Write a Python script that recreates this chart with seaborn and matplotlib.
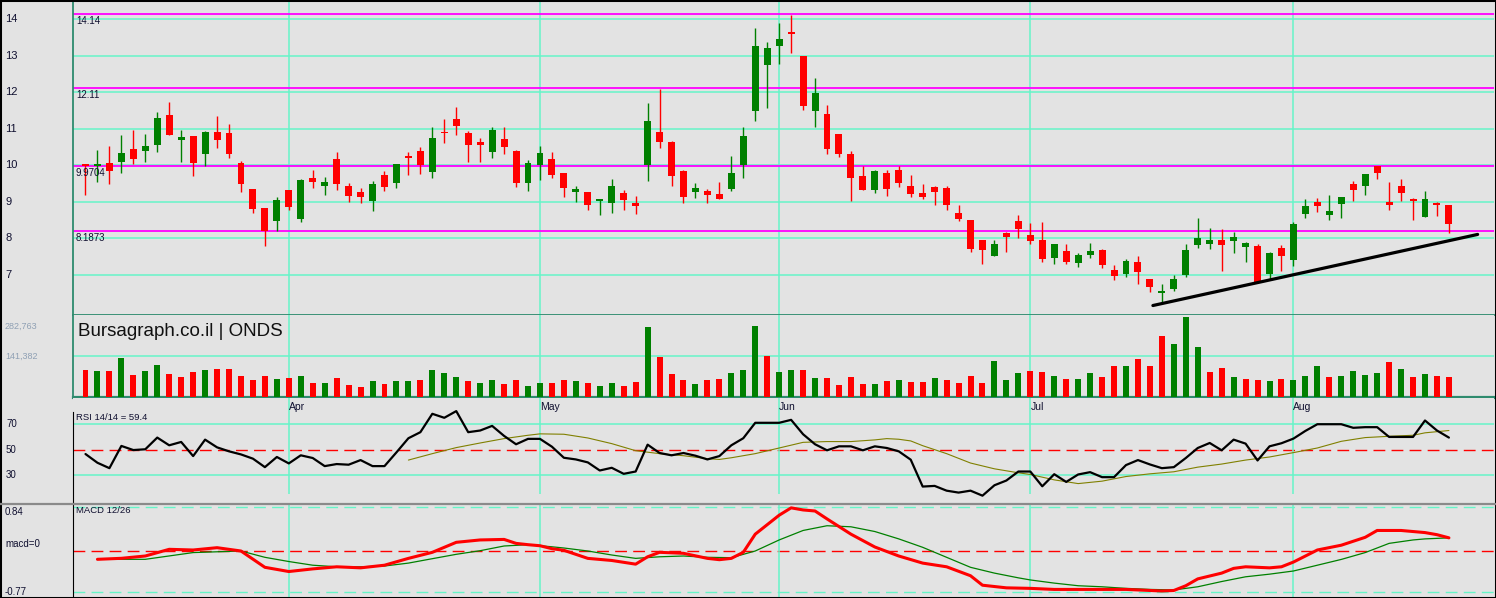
#
## ONDS daily chart: candles, volume, RSI and MACD panels in the Bursagraph style
#

import numpy as np
import matplotlib
matplotlib.use("Agg")
import matplotlib.pyplot as plt
from matplotlib.lines import Line2D
from matplotlib.patches import Rectangle
import seaborn as sns

# ---- data (one entry per trading day) ----
opens = [10.03, 9.99, 10.06, 10.09, 10.44, 10.39, 10.55, 11.38, 10.70, 10.80,
         10.31, 10.91, 10.88, 10.06, 9.35, 8.83, 8.48, 9.32, 8.53, 9.65,
         9.44, 10.17, 9.43, 9.25, 9.03, 9.73, 9.52, 10.25, 10.39, 9.81,
         10.91, 11.27, 10.88, 10.64, 10.36, 10.72, 10.39, 9.51, 10.01, 10.17,
         9.79, 9.27, 9.27, 9.03, 8.95, 9.24, 8.95, 10.01, 10.91, 10.64,
         9.84, 9.27, 9.29, 9.21, 9.35, 10.01, 11.49, 12.75, 13.27, 13.63,
         12.99, 11.49, 11.40, 10.86, 10.31, 9.70, 9.32, 9.79, 9.87, 9.43,
         9.24, 9.40, 9.37, 8.69, 8.50, 7.95, 7.51, 8.14, 8.47, 8.09,
         7.95, 7.46, 7.65, 7.32, 7.54, 7.67, 7.13, 7.02, 7.35, 6.88,
         6.50, 6.61, 6.99, 7.81, 7.84, 7.95, 7.92, 7.76, 7.78, 7.02,
         7.73, 7.40, 8.66, 8.99, 8.63, 8.94, 9.48, 9.43, 9.98, 8.99,
         9.43, 9.07, 8.58, 8.94, 8.91]
highs = [10.03, 10.42, 10.53, 10.83, 10.97, 10.86, 11.46, 11.73, 10.97, 10.80,
         10.94, 11.35, 11.13, 10.12, 9.35, 8.83, 9.13, 9.32, 9.62, 9.87,
         9.68, 10.36, 9.51, 9.36, 9.57, 9.84, 10.03, 10.36, 10.50, 11.05,
         11.27, 11.60, 10.94, 10.75, 11.05, 11.05, 10.42, 10.14, 10.53, 10.36,
         9.79, 9.43, 9.27, 9.07, 9.62, 9.32, 9.16, 11.71, 12.09, 10.66,
         9.87, 9.51, 9.35, 9.54, 10.25, 11.05, 13.76, 13.38, 13.90, 14.12,
         12.99, 12.39, 11.65, 10.86, 10.39, 9.98, 9.87, 9.87, 9.98, 9.73,
         9.48, 9.43, 9.43, 8.91, 8.50, 7.95, 7.95, 8.17, 8.63, 8.41,
         8.44, 7.84, 7.84, 7.59, 7.87, 7.70, 7.26, 7.43, 7.51, 6.88,
         6.74, 6.99, 7.84, 8.55, 8.28, 8.25, 8.17, 7.89, 7.84, 7.62,
         7.81, 8.44, 9.07, 9.10, 9.18, 9.13, 9.57, 9.76, 9.98, 9.54,
         9.62, 9.10, 9.29, 8.99, 8.91]
lows = [9.18, 9.55, 9.48, 9.79, 10.03, 10.09, 10.36, 10.83, 10.09, 9.71,
        9.98, 10.47, 10.20, 9.25, 8.70, 7.77, 8.20, 8.78, 8.45, 9.36,
        9.19, 9.33, 9.00, 8.97, 8.73, 9.30, 9.36, 9.74, 9.77, 9.66,
        10.61, 10.83, 10.09, 10.09, 10.20, 10.31, 9.40, 9.29, 9.59, 9.66,
        9.13, 9.00, 8.78, 8.64, 8.70, 8.78, 8.67, 9.57, 10.47, 9.43,
        8.97, 9.11, 8.97, 9.08, 9.29, 9.66, 11.21, 11.57, 12.78, 13.08,
        11.51, 11.05, 10.31, 10.22, 9.02, 9.32, 9.24, 9.16, 9.40, 9.13,
        9.07, 8.91, 8.77, 8.47, 7.62, 7.29, 7.51, 7.62, 8.00, 7.84,
        7.35, 7.29, 7.29, 7.21, 7.46, 7.18, 6.86, 6.93, 6.74, 6.52,
        6.19, 6.55, 6.93, 7.73, 7.70, 7.10, 7.59, 7.35, 6.80, 6.88,
        7.10, 7.24, 8.55, 8.72, 8.50, 8.55, 9.02, 9.18, 9.62, 8.77,
        9.02, 8.50, 8.58, 8.61, 8.14]
closes = [9.98, 10.01, 9.85, 10.33, 10.17, 10.53, 11.29, 10.83, 10.76, 10.06,
          10.91, 10.70, 10.31, 9.47, 8.81, 8.20, 9.05, 8.84, 9.59, 9.55,
          9.54, 9.47, 9.16, 9.14, 9.49, 9.41, 10.03, 10.21, 10.01, 10.75,
          10.88, 11.07, 10.55, 10.55, 10.97, 10.50, 9.51, 10.06, 10.33, 9.74,
          9.36, 9.35, 8.92, 9.07, 9.43, 9.05, 8.89, 11.21, 10.64, 9.70,
          9.13, 9.37, 9.19, 9.08, 9.79, 10.80, 13.27, 13.21, 13.46, 13.60,
          11.62, 11.98, 10.44, 10.31, 9.65, 9.32, 9.84, 9.35, 9.51, 9.21,
          9.13, 9.27, 8.91, 8.52, 7.70, 7.67, 7.84, 8.03, 8.25, 7.92,
          7.43, 7.84, 7.35, 7.54, 7.65, 7.26, 6.96, 7.37, 7.07, 6.66,
          6.52, 6.88, 7.67, 8.00, 7.95, 7.81, 8.03, 7.87, 6.80, 7.59,
          7.51, 8.39, 8.88, 8.88, 8.74, 9.13, 9.32, 9.76, 9.79, 8.91,
          9.24, 9.02, 9.07, 8.92, 8.39]

# volume in thousands of shares, and the colour the chart gives each bar
volumes = [92, 88.5, 88.5, 133, 75, 88.5, 109, 78, 68, 85,
           92, 95, 95, 71, 57, 71, 61, 64, 71, 47,
           47, 64, 40, 33, 54, 44, 54, 54, 57, 92,
           82, 68, 54, 47, 57, 44, 57, 37, 47, 47,
           57, 54, 47, 37, 47, 37, 51, 240, 137, 78,
           57, 44, 57, 61, 82, 92, 244, 140, 85, 92,
           92, 64, 64, 40, 68, 44, 44, 54, 57, 51,
           51, 64, 57, 47, 71, 47, 123, 57, 82, 88.5,
           85, 71, 61, 61, 82, 68, 106, 106, 130, 106,
           209, 182, 276, 171, 85, 99, 68, 61, 57, 54,
           61, 57, 71, 106, 68, 71, 88.5, 75, 82, 120,
           95, 68, 78, 71, 68]
volume_dir = list("rgrgrggrrr" "grrrrrgrgr" "grrrgrggrg" "ggrggrrggr"
                  "rgrggrrgrr" "rgrrgggrgg" "rgrrrrgrgr" "rgrrrrgggr"
                  "rgrggrrgrr" "rggg" "rrgrrg" "rgggrggggr" "grgrr")

rsi = [46.6, 39.8, 35.6, 52.9, 49.7, 50.3, 59.4, 53.4, 56.0, 45.0,
       57.8, 51.8, 48.7, 46.3, 43.0, 36.4, 44.3, 39.3, 45.6, 43.5,
       37.2, 38.8, 38.3, 41.9, 37.2, 37.2, 47.9, 58.9, 63.6, 77.9,
       74.8, 80.0, 63.6, 64.9, 68.5, 60.7, 54.2, 58.4, 58.4, 52.3,
       43.7, 42.4, 40.1, 33.8, 35.9, 31.2, 33.0, 53.9, 47.4, 45.6,
       47.4, 45.3, 42.4, 45.0, 53.4, 58.9, 70.9, 70.9, 70.9, 73.2,
       62.0, 54.2, 49.5, 52.6, 52.6, 49.5, 52.6, 51.3, 48.7, 42.2,
       21.3, 21.8, 18.1, 16.6, 18.1, 14.2, 22.3, 26.0, 33.0, 33.0,
       21.5, 30.9, 24.9, 30.7, 32.5, 28.6, 28.6, 38.0, 41.9, 38.5,
       35.6, 36.4, 43.5, 51.3, 55.2, 49.5, 57.8, 54.7, 41.6, 52.6,
       55.0, 58.6, 64.6, 69.8, 69.8, 69.8, 67.0, 67.5, 67.5, 59.9,
       59.9, 59.9, 72.7, 64.9, 59.4]
rsi_ma_day = [28, 30, 32, 34, 36, 38, 39, 41, 43, 45, 47, 49, 51, 53, 54, 55,
              57, 59, 61, 63, 65, 67, 68, 69, 70, 71, 73, 75, 77, 79, 80, 82,
              84, 86, 88, 90, 92, 94, 96, 98, 100, 102, 104, 106, 108, 110,
              112, 113, 115]
rsi_ma = [41.9, 46.9, 51.6, 55.2, 58.6, 61.2, 62.3, 62.0, 59.1, 54.7, 49.2,
          46.9, 45.3, 43.0, 42.4, 43.7, 46.9, 51.3, 55.7, 56.3, 56.3, 57.6,
          58.6, 58.1, 56.8, 53.1, 46.9, 39.6, 35.1, 32.0, 30.7, 26.5, 23.6,
          25.5, 29.1, 31.2, 32.8, 36.4, 38.8, 41.9, 44.3, 47.7, 51.3, 56.5,
          59.4, 60.4, 61.2, 63.1, 64.9]

macd_day = [2, 4, 6, 8, 10, 12, 14, 16, 18, 20, 22, 24, 26, 28, 30, 32, 34,
            36, 37, 38, 39, 40, 41, 43, 45, 47, 48, 49, 51, 53, 54, 55, 56,
            57, 59, 60, 61, 62, 63, 65, 67, 69, 71, 73, 75, 76, 78, 80, 82,
            84, 86, 88, 90, 91, 92, 93, 94, 96, 97, 98, 100, 101, 102, 104,
            106, 108, 109, 111, 113, 114, 115]
macd = [-0.158, -0.139, -0.095, 0.032, 0.019, 0.063, 0.0, -0.31, -0.39,
        -0.34, -0.30, -0.32, -0.27, -0.14, -0.025, 0.165, 0.21, 0.22, 0.145,
        0.12, 0.10, 0.044, 0.013, -0.14, -0.18, -0.25, -0.11, -0.025, -0.044,
        -0.14, -0.165, -0.14, -0.025, 0.32, 0.68, 0.82, 0.78, 0.76, 0.61,
        0.32, 0.076, -0.095, -0.23, -0.30, -0.47, -0.65, -0.70, -0.71, -0.73,
        -0.73, -0.73, -0.73, -0.75, -0.76, -0.75, -0.66, -0.53, -0.42, -0.33,
        -0.30, -0.32, -0.30, -0.21, 0.019, 0.11, 0.26, 0.39, 0.39, 0.35,
        0.31, 0.25]
signal_day = [2, 6, 10, 14, 16, 18, 20, 22, 24, 26, 28, 30, 32, 34, 36, 38,
              40, 41, 43, 45, 47, 49, 51, 53, 55, 57, 59, 61, 63, 65, 67, 69,
              71, 73, 75, 77, 79, 80, 82, 84, 86, 88, 90, 92, 94, 96, 98, 100,
              102, 104, 106, 108, 110, 112, 113, 115]
macd_signal = [-0.158, -0.158, -0.03, 0.0, -0.12, -0.20, -0.27, -0.30, -0.30,
               -0.285, -0.23, -0.146, -0.063, 0.006, 0.095, 0.12, 0.08, 0.057,
               0.0, -0.076, -0.14, -0.11, -0.095, -0.12, -0.127, 0.0, 0.21,
               0.39, 0.48, 0.46, 0.37, 0.23, 0.07, -0.12, -0.31, -0.42, -0.51,
               -0.55, -0.61, -0.66, -0.68, -0.71, -0.73, -0.74, -0.68, -0.58,
               -0.49, -0.44, -0.38, -0.27, -0.16, -0.03, 0.145, 0.21, 0.23, 0.25]

levels = [14.14, 12.11, 9.9704, 8.1873]
level_labels = ["14.14", "12.11", "9.9704", "8.1873"]
price_ticks = [7, 8, 9, 10, 11, 12, 13, 14]
month_names = ["Apr", "May", "Jun", "Jul", "Aug"]
month_first_day = [18, 39, 59, 80, 102]
trend_day = [90.25, 117.4]
trend_price = [6.15, 8.10]
vol_max = 282763
vol_mid = 141382

# ---- style ----
BG = "#e3e3e3"
GRID = "#66f5c8"
UP, DOWN = "#008000", "#ff0000"
EDGE = "#2e8b6e"
TXT = "#101030"

sns.set_style("white", {"axes.facecolor": BG, "figure.facecolor": BG})
plt.rcParams["font.family"] = ["Liberation Sans", "DejaVu Sans"]
plt.rcParams["lines.scale_dashes"] = False

W, H = 1496, 598
LEFT, RIGHT = 73, 1494
fig = plt.figure(figsize=(W / 100, H / 100), dpi=100)

def panel(top, bottom):
    return fig.add_axes([LEFT / W, 1 - bottom / H, (RIGHT - LEFT) / W, (bottom - top) / H])

ax_p = panel(0, 315)
ax_v = panel(315, 397)
ax_r = panel(398, 503)
ax_m = panel(505, 597)

day = np.arange(1, len(closes) + 1)
xmin, xmax = -0.045, 118.77
for ax in (ax_p, ax_v, ax_r, ax_m):
    ax.set_xlim(xmin, xmax)
    ax.set_xticks([])
    ax.set_yticks([])
    ax.set_facecolor(BG)
    for s in ax.spines.values():
        s.set_visible(False)

label_x = -68 / (RIGHT - LEFT)

# ---- price panel ----
ax_p.set_ylim(5.89, 14.53)
for v in price_ticks:
    ax_p.axhline(v, color=GRID, lw=1.1, zorder=1)
    ax_p.text(label_x, v, str(v), transform=ax_p.get_yaxis_transform(),
              fontsize=8, color=TXT, va="center", ha="left", clip_on=False)
for d in month_first_day:
    ax_p.axvline(d, color=GRID, lw=1.1, zorder=1)
for v, lab in zip(levels, level_labels):
    ax_p.axhline(v, color="#ff00ff", lw=1.3, zorder=2)
    ax_p.annotate(lab, (0.002, v), xycoords=ax_p.get_yaxis_transform(),
                  xytext=(0, -1.5), textcoords="offset points",
                  fontsize=7, color=TXT, va="top", ha="left", zorder=6)

o, h, l, c = map(np.array, (opens, highs, lows, closes))
candle_col = np.where(c >= o, UP, DOWN)
ax_p.vlines(day, l, h, colors=candle_col, lw=1.0, zorder=3)
body_lo = np.minimum(o, c)
body_h = np.maximum(np.abs(c - o), 0.04)
ax_p.bar(day, body_h, bottom=body_lo, width=0.58, color=candle_col, lw=0, zorder=4)
sns.lineplot(x=trend_day, y=trend_price, color="black", lw=2.3, ax=ax_p, zorder=5)
ax_p.spines["left"].set_visible(True)
ax_p.spines["left"].set_color(EDGE)
ax_p.spines["left"].set_linewidth(1.3)
ax_p.spines["bottom"].set_visible(True)
ax_p.spines["bottom"].set_color(EDGE)
ax_p.spines["bottom"].set_linewidth(1.3)

# ---- volume panel ----
ax_v.set_ylim(0, vol_max)
ax_v.axhline(vol_mid, color=GRID, lw=1.1, zorder=1)
for d in month_first_day:
    ax_v.axvline(d, color=GRID, lw=1.1, zorder=1)
vol_col = [UP if k == "g" else DOWN for k in volume_dir]
ax_v.bar(day, np.array(volumes) * 1000, width=0.5, color=vol_col, lw=0, zorder=3)
ax_v.annotate("282,763", (label_x, vol_max), xycoords=ax_v.get_yaxis_transform(),
              xytext=(0, -8), textcoords="offset points",
              fontsize=6.5, color="#8fa0b4", va="center", ha="left", annotation_clip=False)
ax_v.text(label_x, vol_mid, "141,382", transform=ax_v.get_yaxis_transform(),
          fontsize=6.5, color="#8fa0b4", va="center", ha="left", clip_on=False)
ax_v.text(5 / (RIGHT - LEFT), 0.80, "Bursagraph.co.il | ONDS", transform=ax_v.transAxes,
          fontsize=13.5, color="#111111", va="center", ha="left")
ax_v.spines["left"].set_visible(True)
ax_v.spines["left"].set_color(EDGE)
ax_v.spines["left"].set_linewidth(1.3)
ax_v.spines["bottom"].set_visible(True)
ax_v.spines["bottom"].set_color(EDGE)
ax_v.spines["bottom"].set_linewidth(2.3)

# ---- RSI panel ----
r_lo, r_hi = 8.5, 90.2
ax_r.set_ylim(r_lo, r_hi)
for v in (70, 30):
    ax_r.axhline(v, color=GRID, lw=1.1, zorder=1)
ax_r.axhline(50, color=DOWN, lw=1.0, ls=(0, (8.5, 4.5)), zorder=1)
ax_r.vlines(month_first_day, 15.5, r_hi, colors=GRID, lw=1.1, zorder=1)
sns.lineplot(x=day, y=rsi, color="black", lw=1.6, ax=ax_r, zorder=4)
sns.lineplot(x=rsi_ma_day, y=rsi_ma, color="#808000", lw=0.8, ax=ax_r, zorder=3)
for v in (70, 50, 30):
    ax_r.text(label_x + 1 / (RIGHT - LEFT), v, str(v), transform=ax_r.get_yaxis_transform(),
              fontsize=7, color=TXT, va="center", ha="left", clip_on=False)
for d, name in zip(month_first_day, month_names):
    ax_r.text(d, 0.912, name, transform=ax_r.get_xaxis_transform(),
              fontsize=7.5, color=TXT, va="center", ha="left")
ax_r.text(3 / (RIGHT - LEFT), 0.815, "RSI 14/14 = 59.4", transform=ax_r.transAxes,
          fontsize=6.8, color=TXT, va="center", ha="left")
ax_r.spines["left"].set_visible(True)
ax_r.spines["left"].set_color("black")
ax_r.spines["left"].set_bounds(r_lo, 79.6)
ax_r.set_ylabel("")
ax_r.set_xlabel("")

# ---- MACD panel ----
ax_m.set_ylim(-0.874, 0.874)
for v in (0.84, -0.77):
    ax_m.axhline(v, color=GRID, lw=1.0, ls=(0, (8.5, 4.5)), zorder=1)
ax_m.axhline(0, color=DOWN, lw=1.0, ls=(0, (8.5, 4.5)), zorder=1)
for d in month_first_day:
    ax_m.axvline(d, color=GRID, lw=1.1, zorder=1)
sns.lineplot(x=signal_day, y=macd_signal, color=UP, lw=0.9, ax=ax_m, zorder=3)
sns.lineplot(x=macd_day, y=macd, color=DOWN, lw=2.2, ax=ax_m, zorder=4)
ax_m.text(label_x, 0.84, "0.84", transform=ax_m.get_yaxis_transform(),
          fontsize=7, color=TXT, va="top", ha="left", clip_on=False)
ax_m.annotate("macd=0", (label_x, 0), xycoords=ax_m.get_yaxis_transform(),
              xytext=(0, 1.5), textcoords="offset points",
              fontsize=7, color=TXT, va="bottom", ha="left", annotation_clip=False)
ax_m.text(label_x, -0.77, "-0.77", transform=ax_m.get_yaxis_transform(),
          fontsize=7, color=TXT, va="center", ha="left", clip_on=False)
ax_m.text(3 / (RIGHT - LEFT), 0.935, "MACD 12/26", transform=ax_m.transAxes,
          fontsize=6.8, color=TXT, va="center", ha="left")
ax_m.spines["left"].set_visible(True)
ax_m.spines["left"].set_color("black")
ax_m.set_ylabel("")
ax_m.set_xlabel("")
for ax in (ax_p, ax_v):
    ax.set_ylabel("")
    ax.set_xlabel("")

# panel separator and outer frame
fig.add_artist(Line2D([0, 1], [1 - 504 / H, 1 - 504 / H], transform=fig.transFigure,
                      color="#8a8a8a", lw=1.6))
fig.add_artist(Rectangle((0, 0), 1, 1, transform=fig.transFigure, fill=False,
                         edgecolor="black", lw=2.2))

fig.savefig("out.png", dpi=100, facecolor=BG)
plt.close(fig)
